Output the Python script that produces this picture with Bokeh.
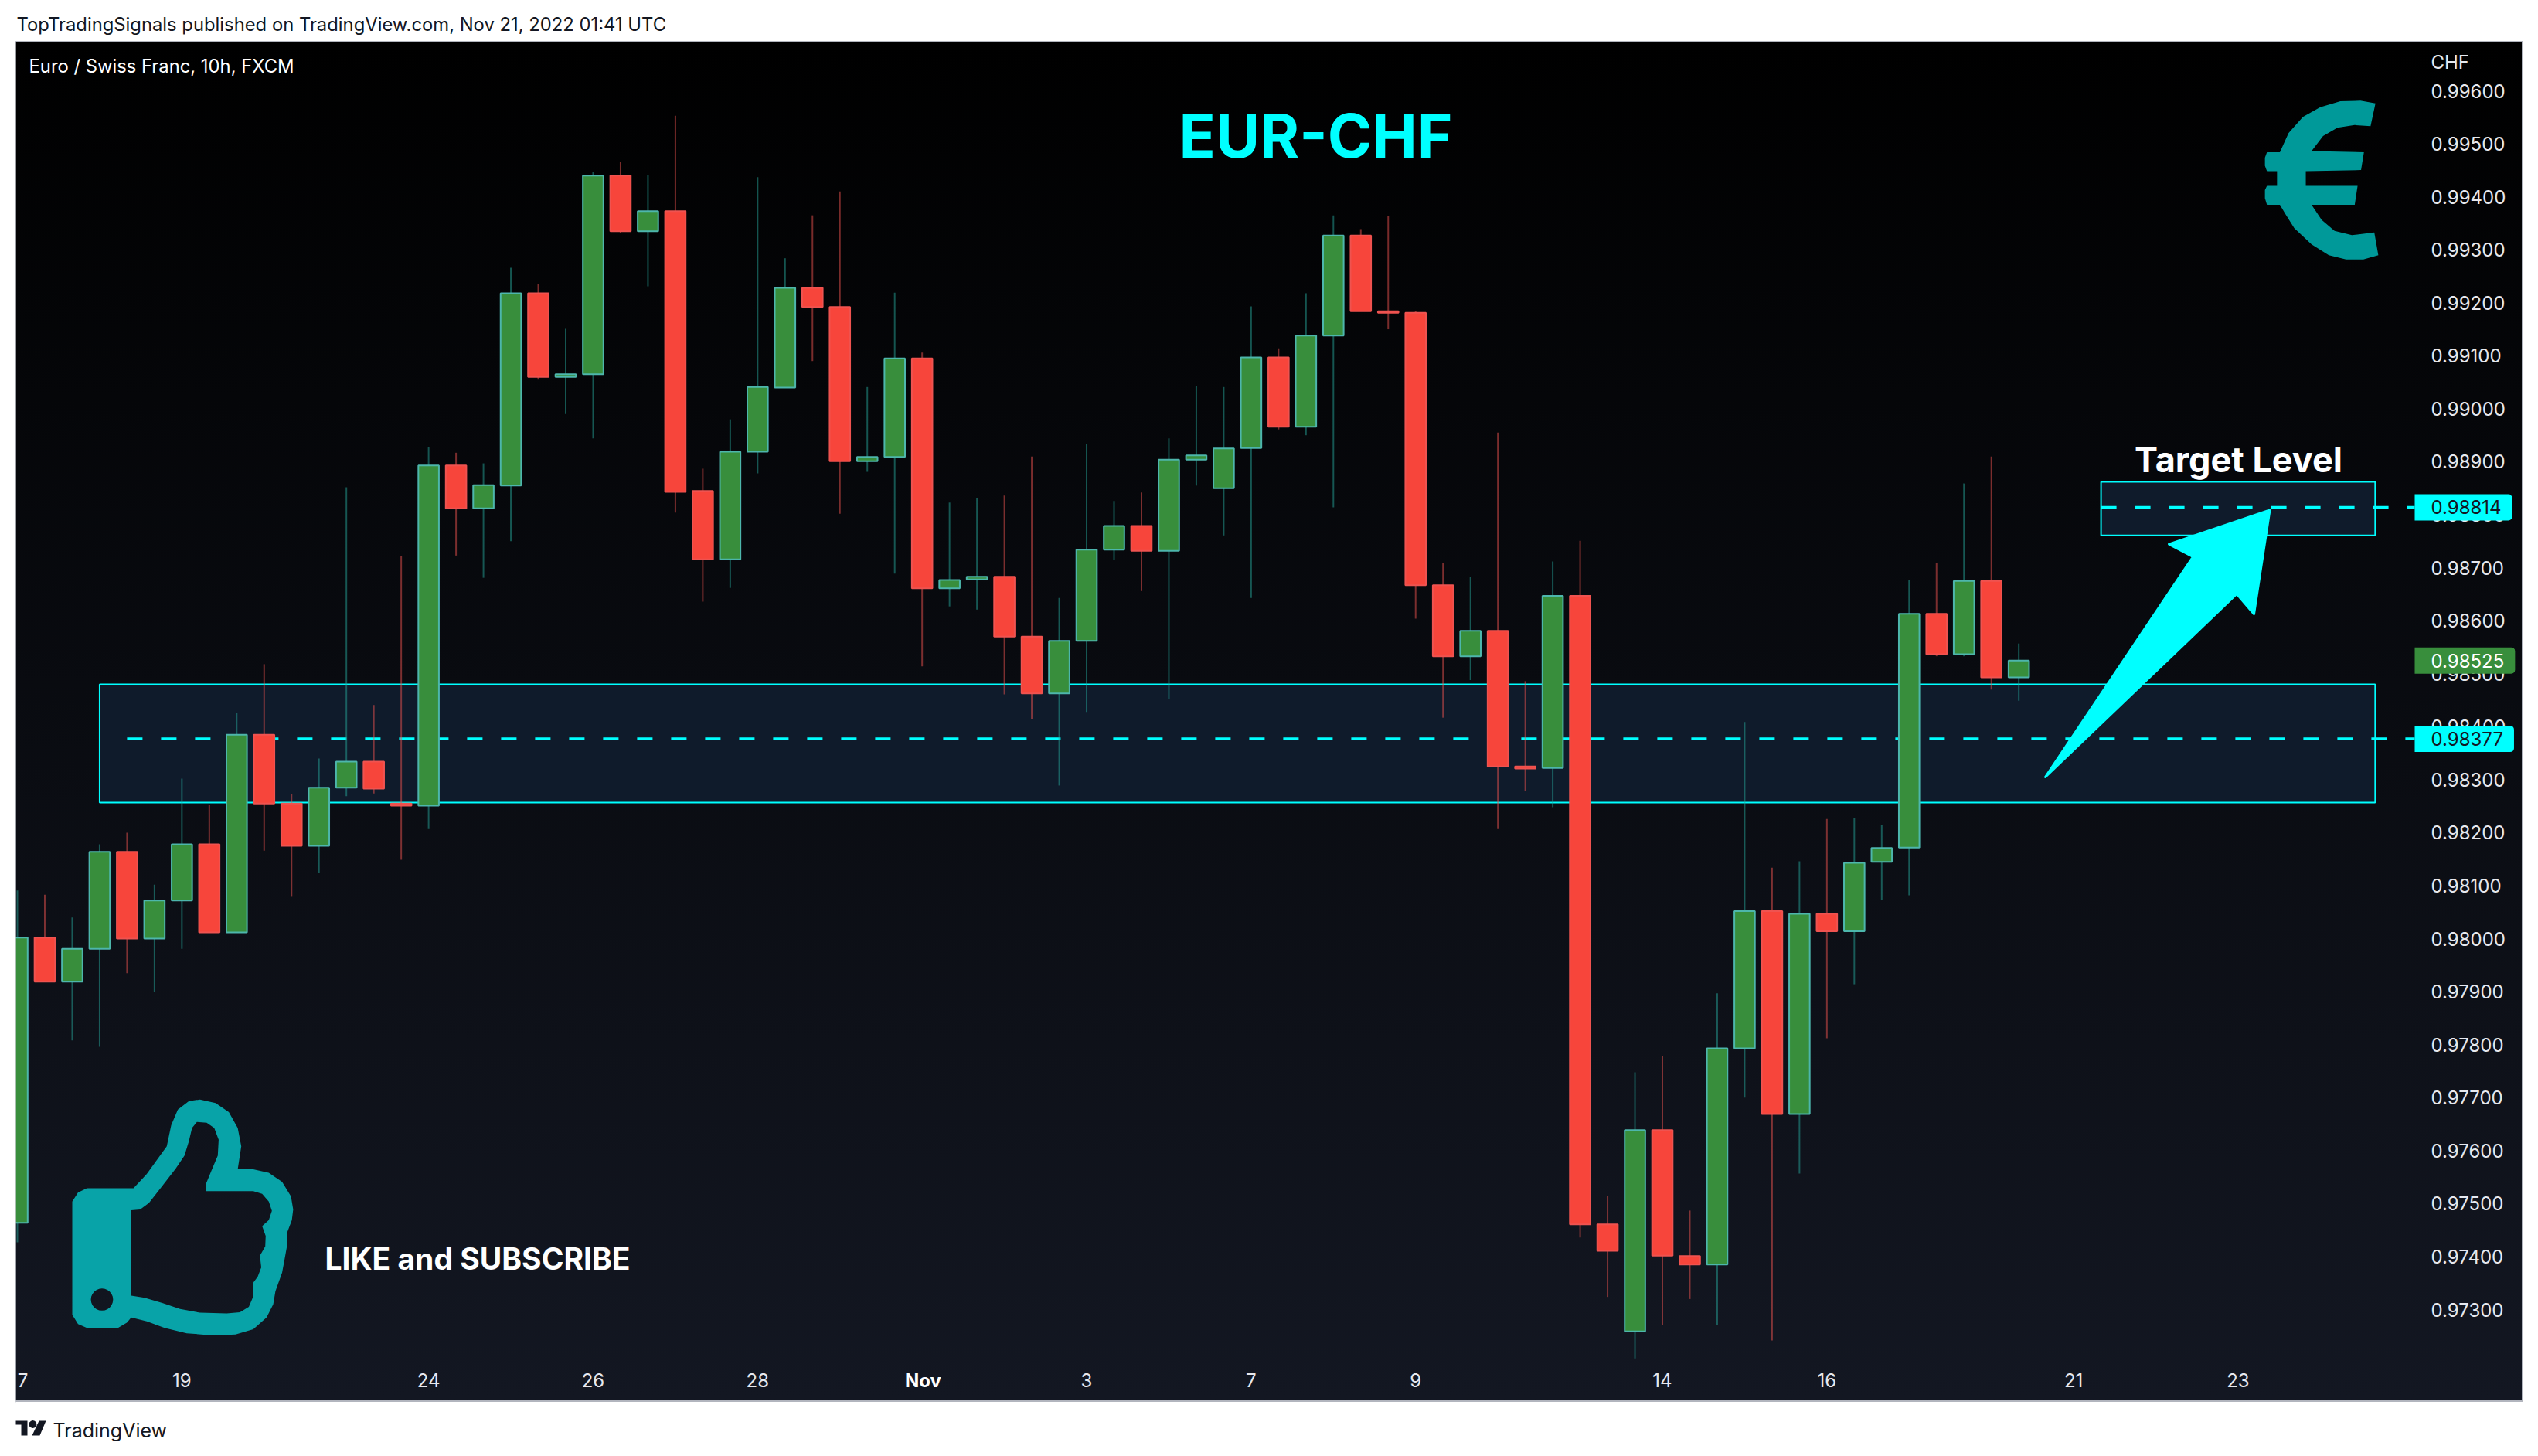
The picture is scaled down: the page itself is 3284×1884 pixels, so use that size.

import math
from bokeh.plotting import figure
from bokeh.embed import file_html
from bokeh.resources import INLINE
from bokeh.models import (Range1d, LinearAxis, FixedTicker, NumeralTickFormatter,
                          Label, ColumnDataSource)

# ---------- data ----------
opens = [.97464,.98002,.97919,.97981,.98164,.98000,.98072,.98178,.98012,.98385,.98255,.98175,.98285,.98334,.98255,
         .98251,.98893,.98812,.98855,.99218,.99060,.99065,.99440,.99335,.99373,.98845,.98716,.98919,.99040,.99228,
         .99192,.98901,.98909,.99095,.98661,.98678,.98683,.98570,.98463,.98562,.98734,.98779,.98732,.98904,.98850,
         .98926,.99097,.98966,.99138,.99327,.99184,.99181,.98667,.98533,.98581,.98325,.98322,.98647,.97461,.97259,
         .97639,.97401,.97385,.97793,.98052,.97669,.98047,.98014,.98145,.98172,.98613,.98537,.98675,.98493]
highs = [.98091,.98083,.98040,.98178,.98200,.98102,.98302,.98252,.98426,.98518,.98273,.98340,.98852,.98441,.98722,
         .98928,.98917,.98897,.99266,.99235,.99151,.99447,.99466,.99441,.99553,.98887,.98980,.99437,.99284,.99365,
         .99410,.99041,.99219,.99106,.98823,.98831,.98836,.98910,.98643,.98934,.98826,.98842,.98944,.99043,.99041,
         .99193,.99114,.99218,.99365,.99339,.99364,.99184,.98709,.98683,.98955,.98486,.98712,.98751,.97515,.97748,
         .97779,.97487,.97897,.98409,.98134,.98146,.98226,.98228,.98215,.98677,.98709,.98859,.98910,.98557]
lows = [.97427,.97919,.97808,.97796,.97935,.97900,.97981,.98012,.98012,.98166,.98079,.98124,.98269,.98274,.98149,
        .98207,.98723,.98681,.98750,.99055,.98990,.98944,.99332,.99231,.98804,.98636,.98662,.98878,.99040,.99090,
        .98802,.98881,.98689,.98514,.98627,.98621,.98461,.98415,.98289,.98428,.98714,.98656,.98452,.98855,.98761,
        .98643,.98961,.98950,.98814,.99184,.99150,.98604,.98417,.98488,.98207,.98279,.98248,.97436,.97324,.97208,
        .97271,.97320,.97271,.97700,.97242,.97557,.97812,.97914,.98073,.98082,.98533,.98533,.98470,.98449]
closes = [.98002,.97919,.97981,.98164,.98000,.98072,.98178,.98012,.98385,.98255,.98175,.98285,.98334,.98283,.98251,
          .98893,.98812,.98856,.99218,.99060,.99065,.99440,.99335,.99373,.98843,.98716,.98919,.99041,.99228,.99192,
          .98901,.98909,.99095,.98661,.98677,.98683,.98570,.98463,.98562,.98734,.98779,.98732,.98904,.98912,.98925,
          .99097,.98966,.99138,.99327,.99184,.99181,.98667,.98533,.98581,.98325,.98321,.98647,.97461,.97411,.97639,
          .97402,.97385,.97793,.98052,.97669,.98047,.98014,.98143,.98171,.98613,.98537,.98675,.98493,.98525]
price_ticks = [.973,.974,.975,.976,.977,.978,.979,.980,.981,.982,.983,.984,.985,.986,.987,.988,.989,.990,.991,.992,.993,.994,.995,.996]
time_ticks = [0.2, 6, 15, 21, 27, 33, 39, 45, 51, 60, 66, 75, 81]
time_labels = ["7", "19", "24", "26", "28", " ", "3", "7", "9", "14", "16", "21", "23"]
support_zone = (3, 86, .98480, .98257)
support_level = .98377
target_zone = (76, 86, .98862, .98761)
target_level = .98814
last_price = .98525

# ---------- layout helpers (image pixels -> data coords) ----------
X0, DX = 22.0, 35.475
PX_PER_PRICE = 68570.0
def dx(px): return (px - X0) / DX
def dy(py): return .996 - (py - 117) / PX_PER_PRICE

W, H = 3276, 1876
PANE_R = 3124
FONT = "Inter"
BG = ("linear-gradient(#000000,#131722) 20px 54px/3243px 1758px no-repeat,"
      "linear-gradient(#b2b5be,#b2b5be) 19px 53px/3245px 1761px no-repeat,#ffffff")

p = figure(width=W, height=H, output_backend="svg", toolbar_location=None,
           x_range=Range1d(dx(0), dx(W)), y_range=Range1d(dy(H), dy(0)),
           x_axis_location=None, y_axis_location=None,
           min_border=0,
           border_fill_color=None, background_fill_color=None, outline_line_color=None)
p.styles = {"background": BG}
p.grid.visible = False

yaxis = LinearAxis(ticker=FixedTicker(ticks=price_ticks), formatter=NumeralTickFormatter(format="0.00000"),
                   axis_line_color=None, major_tick_line_color=None, minor_tick_line_color=None,
                   major_tick_out=0, major_tick_in=0,
                   major_label_standoff=3145 - W, major_label_text_color="#e6e8ee",
                   major_label_text_font=FONT, major_label_text_font_size="24px")
p.add_layout(yaxis, "right")
xaxis = LinearAxis(ticker=FixedTicker(ticks=time_ticks),
                   major_label_overrides=dict(zip(time_ticks, time_labels)),
                   axis_line_color=None, major_tick_line_color=None, minor_tick_line_color=None,
                   major_tick_out=0, major_tick_in=0,
                   major_label_standoff=1771 - H, major_label_text_color="#e6e8ee",
                   major_label_text_font=FONT, major_label_text_font_size="24px")
p.add_layout(xaxis, "below")

# zones
for (l, r, t, b) in (support_zone, target_zone):
    p.quad(left=[l], right=[r], top=[t], bottom=[b], fill_color="#0f1b2b",
           line_color="#00ffff", line_width=2, level="underlay")
p.line([support_zone[0] + 1, dx(PANE_R)], [support_level] * 2, line_color="#00ffff", line_width=3.5, line_dash="20 24")
p.line([target_zone[0], dx(PANE_R)], [target_level] * 2, line_color="#00ffff", line_width=3.5, line_dash="20 24")

# candles
idx = list(range(len(opens)))
up = [c >= o for o, c in zip(opens, closes)]
for is_up, fill, line in ((True, "#388e3c", "#4db6ac"), (False, "#f7453b", "#ef5350")):
    sel = [i for i in idx if up[i] == is_up]
    src = ColumnDataSource(dict(x=sel, o=[opens[i] for i in sel], c=[closes[i] for i in sel],
                                h=[highs[i] for i in sel], l=[lows[i] for i in sel]))
    p.segment("x", "h", "x", "l", source=src, line_color="#26a69a" if is_up else "#ef5350", line_alpha=.5, line_width=2)
    p.vbar(x="x", top="o", bottom="c", width=.75, source=src, fill_color=fill, line_color=line, line_width=2)

# page margin over the first, cut-off candle
p.quad(left=[dx(0)], right=[dx(20)], top=[dy(53)], bottom=[dy(1814)], fill_color="#ffffff", line_color=None)
p.quad(left=[dx(19)], right=[dx(20)], top=[dy(53)], bottom=[dy(1814)], fill_color="#b2b5be", line_color=None)

# arrow
arrow_px = [(2936.5, 659.4), (2806, 703.6), (2837, 720), (2646, 1005), (2893.7, 768), (2916, 794)]
p.patch([dx(a) for a, b in arrow_px], [dy(b) for a, b in arrow_px], fill_color="#00ffff",
        line_color="#00ffff", line_width=3, line_join="round")

# euro icon (traced)
euro = [(1002,190),(985,232),(930,230),(870,235),(820,250),(780,278),(962,280),(952,313),(760,315),(760,342),(940,342),
        (930,377),(780,377),(815,405),(860,425),(920,433),(998,428),(1012,470),(960,478),(900,478),(840,470),(780,450),
        (720,420),(690,395),(670,377),(625,377),(618,365),(618,350),(625,342),(660,342),(660,315),(625,315),(618,305),
        (618,290),(625,280),(670,280),(700,245),(750,215),(810,197),(880,186),(950,185)]
p.patch([dx(2700 + a / 2.685) for a, b in euro], [dy(b / 1.4255) for a, b in euro], fill_color="#009999", line_color=None)

# thumb icon (outline traced in a 1.742 x 2.936 grid)
tx = lambda X: X / 1.742
ty = lambda Y: 1350 + Y / 2.936
outer = [(162,600),(175,565),(195,549),(300,549),(330,495),(375,390),(385,310),(400,250),(425,218),(450,212),(485,225),
         (515,260),(535,320),(543,390),(535,477),(570,477),(605,490),(635,525),(655,580),(660,630),(657,670),(647,715),
         (647,760),(640,825),(635,870),(620,940),(615,990),(600,1040),(570,1085),(530,1105),(480,1108),(420,1100),
         (370,1080),(330,1055),(295,1040),(285,1060),(265,1080),(195,1080),(175,1065),(162,1030)]
inner = [(295,633),(315,630),(335,605),(365,540),(395,475),(415,425),(425,370),(432,320),(443,297),(465,300),(482,320),
         (492,365),(490,425),(475,485),(464,530),(464,560),(570,560),(590,570),(605,600),(612,635),(605,670),(590,693),
         (598,730),(597,770),(585,805),(588,850),(580,885),(570,908),(570,960),(560,1000),(540,1020),(510,1025),
         (450,1022),(405,1008),(365,985),(325,965),(295,957)]
hole = [(229 + 25 * math.cos(t / 12 * math.pi), 972 + 42 * math.sin(t / 12 * math.pi)) for t in range(24)]
def ring(pts): return [dx(tx(a)) for a, b in pts], [dy(ty(b)) for a, b in pts]
ox, oy = ring(outer); ix, iy = ring(inner); hx, hy = ring(hole)
p.multi_polygons(xs=[[[ox, ix, hx]]], ys=[[[oy, iy, hy]]], fill_color="#08a3a8", line_color=None)

# texts
def lbl(text, px, py, size, color, style="normal", align="left", base="middle", font=FONT, **kw):
    l = Label(x=dx(px), y=dy(py), text=text, text_font=font,
              text_font_size=f"{size}px", text_color=color,
              text_font_style=style, text_align=align, text_baseline=base, level="annotation", **kw)
    p.add_layout(l)
    return l

lbl("TopTradingSignals published on TradingView.com, Nov 21, 2022 01:41 UTC", 21, 31, 23.8, "#131722")
lbl("Euro / Swiss Franc, 10h, FXCM", 37, 85, 23.8, "#ffffff")
lbl("CHF", 3145, 80, 24, "#e6e8ee")
lbl("Nov", 1194, 1786, 24, "#ffffff", style="bold", align="center")
lbl("EUR-CHF", 1702, 175, 78, "#00ffff", style="bold", align="center")
lbl("Target Level", 2896, 594, 45, "#ffffff", style="bold", align="center")
lbl("LIKE and SUBSCRIBE", 420, 1628, 39, "#ffffff", style="bold")
lbl("TradingView", 68, 1850, 25, "#131722")

for val, bg, fg in ((target_level, "#00ffff", "#131722"), (last_price, "#388e3c", "#ffffff"), (support_level, "#00ffff", "#131722")):
    t = f"{val:.5f}"
    y_px = 117 + (.996 - val) * PX_PER_PRICE
    # padding is left, right, top, bottom; the box starts at x
    lbl(t, PANE_R, y_px, 24, fg, background_fill_color=bg, padding=(21, 14, 8, 8), border_radius=(0, 5, 5, 0))

# TradingView logo
t_shape = [(20,1838),(35,1838),(35,1857),(27,1857),(27,1843),(20,1843)]
slash = [(50,1838),(59,1838),(51,1857),(41,1857)]
dot = [(42 + 5 * math.cos(t / 6 * math.pi), 1842.5 + 5 * math.sin(t / 6 * math.pi)) for t in range(12)]
for shp in (t_shape, slash, dot):
    p.patch([dx(a) for a, b in shp], [dy(b) for a, b in shp], fill_color="#131722", line_color=None)

open("out.html", "w").write(file_html(p, INLINE))
